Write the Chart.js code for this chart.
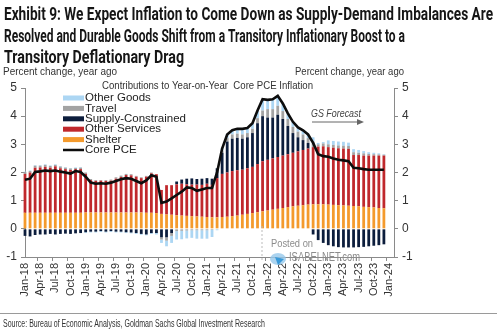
<!DOCTYPE html>
<html>
<head>
<meta charset="utf-8">
<script src="https://cdn.jsdelivr.net/npm/chart.js@4.4.1/dist/chart.umd.min.js"></script>
<style>
  html, body { margin: 0; padding: 0; background: #fff; }
  canvas { display: block; }
</style>
</head>
<body>
<canvas id="pce" width="500" height="332"></canvas>
<script>
// monthly categories, Jan-18 .. Feb-24 (bars run to Dec-23)
const months = [
  'Jan-18','Feb-18','Mar-18','Apr-18','May-18','Jun-18','Jul-18','Aug-18','Sep-18','Oct-18','Nov-18','Dec-18',
  'Jan-19','Feb-19','Mar-19','Apr-19','May-19','Jun-19','Jul-19','Aug-19','Sep-19','Oct-19','Nov-19','Dec-19',
  'Jan-20','Feb-20','Mar-20','Apr-20','May-20','Jun-20','Jul-20','Aug-20','Sep-20','Oct-20','Nov-20','Dec-20',
  'Jan-21','Feb-21','Mar-21','Apr-21','May-21','Jun-21','Jul-21','Aug-21','Sep-21','Oct-21','Nov-21','Dec-21',
  'Jan-22','Feb-22','Mar-22','Apr-22','May-22','Jun-22','Jul-22','Aug-22','Sep-22','Oct-22','Nov-22','Dec-22',
  'Jan-23','Feb-23','Mar-23','Apr-23','May-23','Jun-23','Jul-23','Aug-23','Sep-23','Oct-23','Nov-23','Dec-23',
  'Jan-24','Feb-24'
];

// contributions, percentage points
const shelter = [
  0.57,0.57,0.57,0.57,0.57,0.57,0.57,0.57,0.57,0.57,0.57,0.57,
  0.58,0.58,0.58,0.58,0.58,0.58,0.58,0.58,0.58,0.58,0.58,0.58,
  0.57,0.57,0.56,0.53,0.51,0.50,0.48,0.47,0.46,0.45,0.44,0.43,
  0.42,0.41,0.41,0.42,0.43,0.45,0.47,0.50,0.53,0.56,0.59,0.62,
  0.65,0.68,0.71,0.74,0.77,0.80,0.82,0.84,0.86,0.87,0.87,0.87,
  0.86,0.85,0.84,0.83,0.82,0.81,0.80,0.78,0.77,0.76,0.74,0.73
];
const otherServices = [
  1.38,1.43,1.60,1.61,1.63,1.60,1.65,1.58,1.55,1.52,1.55,1.55,
  1.37,1.15,1.12,1.13,1.12,1.13,1.20,1.26,1.33,1.32,1.27,1.22,
  1.28,1.40,1.38,0.85,1.04,1.05,1.10,1.13,1.12,1.12,1.13,1.13,
  1.18,1.15,1.39,1.53,1.57,1.60,1.61,1.60,1.62,1.64,1.71,1.78,
  1.80,1.82,1.84,1.86,1.88,1.90,1.93,1.96,1.99,2.03,2.05,2.06,
  2.04,2.03,2.02,2.02,2.02,1.81,1.82,1.82,1.83,1.84,1.86,1.87
];
const supplyConstrained = [
  -0.25,-0.27,-0.22,-0.20,-0.20,-0.18,-0.20,-0.18,-0.17,-0.18,-0.16,-0.15,
  -0.12,-0.10,-0.10,-0.08,-0.10,-0.08,-0.10,-0.10,-0.12,-0.13,-0.15,-0.18,
  -0.20,-0.15,-0.15,-0.30,-0.30,-0.15,0.10,0.15,0.20,0.22,0.20,0.22,
  0.20,0.22,0.35,0.75,1.10,1.15,1.15,1.10,1.10,1.20,1.45,1.60,
  1.50,1.45,1.50,1.30,1.00,0.70,0.50,0.35,0.20,-0.20,-0.40,-0.50,
  -0.58,-0.62,-0.65,-0.66,-0.66,-0.66,-0.65,-0.64,-0.62,-0.60,-0.58,-0.55
];
const travel = [
  0.06,0.05,0.07,0.06,0.07,0.06,0.05,0.06,0.05,0.05,0.04,0.05,
  0.05,0.04,0.03,0.02,0.03,0.04,0.05,0.05,0.04,0.04,0.03,0.03,
  0.03,0.03,0.00,-0.08,-0.12,-0.10,-0.08,-0.07,-0.06,-0.05,-0.05,-0.05,
  -0.05,-0.04,0.00,0.08,0.12,0.15,0.15,0.15,0.15,0.15,0.18,0.20,
  0.30,0.30,0.32,0.28,0.25,0.22,0.20,0.20,0.17,0.20,0.08,0.10,
  0.10,0.10,0.10,0.10,0.10,0.10,0.08,0.08,0.06,0.05,0.04,0.03
];
const otherGoods = [
  0.02,0.02,0.02,0.02,0.02,0.02,0.02,0.02,0.02,0.02,0.02,0.02,
  -0.03,-0.03,-0.03,-0.03,-0.03,-0.03,-0.03,-0.03,-0.03,-0.03,-0.03,-0.03,
  -0.03,-0.03,-0.05,-0.12,-0.20,-0.25,-0.30,-0.30,-0.28,-0.27,-0.30,-0.30,
  -0.30,-0.25,-0.05,0.10,0.15,0.15,0.20,0.20,0.18,0.20,0.27,0.40,
  0.33,0.35,0.35,0.27,0.20,0.18,0.15,0.15,0.13,0.15,0.05,0.05,
  0.14,0.14,0.14,0.14,0.12,0.11,0.10,0.08,0.06,0.05,0.04,0.02
];
// core PCE, % yoy
const corePCE = [
  1.74,1.78,2.02,2.04,2.07,2.05,2.07,2.03,2.00,1.96,2.05,2.02,
  1.85,1.64,1.60,1.62,1.60,1.64,1.70,1.76,1.80,1.78,1.70,1.62,
  1.72,1.90,1.85,0.92,0.97,1.08,1.20,1.32,1.47,1.45,1.35,1.40,
  1.45,1.45,2.00,2.85,3.35,3.50,3.55,3.55,3.58,3.75,4.20,4.60,
  4.58,4.60,4.72,4.45,4.10,3.80,3.60,3.50,3.35,3.05,2.65,2.58,
  2.56,2.50,2.45,2.43,2.40,2.17,2.15,2.12,2.10,2.10,2.10,2.10
];

const yMin = -1, yMax = 5;

const headline = [
  'Exhibit 9: We Expect Inflation to Come Down as Supply-Demand Imbalances Are',
  'Resolved and Durable Goods Shift from a Transitory Inflationary Boost to a',
  'Transitory Deflationary Drag'
];
const axisNote = 'Percent change, year ago';
const panelTitle = 'Contributions to Year-on-Year  Core PCE Inflation';
const sourceNote = 'Source: Bureau of Economic Analysis, Goldman Sachs Global Investment Research';

const AXIS_FONT = '"Liberation Sans", Arial, sans-serif';

function barSet(label, data, color) {
  return {
    type: 'bar', label, data,
    backgroundColor: color,
    borderWidth: 0,
    barPercentage: 0.55,
    categoryPercentage: 1,
    stack: 'parts',
    order: 1,
    clip: false
  };
}

// headline, legend, notes and the watermark
const decor = {
  id: 'decor',
  afterDraw(chart) {
    const ctx = chart.ctx;
    ctx.save();

    ctx.fillStyle = '#161616';
    ctx.font = 'bold 18px Roboto, sans-serif';
    ctx.textAlign = 'left';
    ctx.textBaseline = 'alphabetic';
    const widths = [489, 401, 180];
    headline.forEach((t, i) => ctx.fillText(t, 4, 20 + i * 21.5, widths[i]));

    ctx.fillStyle = '#333';
    ctx.font = '11px ' + AXIS_FONT;
    ctx.textBaseline = 'middle';
    ctx.fillText(axisNote, 3, 72, 114);
    ctx.fillText(axisNote, 295, 72, 109);
    ctx.fillText(panelTitle, 102, 86, 211);

    // legend
    const ds = chart.data.datasets;
    const rows = ['Other Goods', 'Travel', 'Supply-Constrained', 'Other Services', 'Shelter', 'Core PCE'];
    ctx.font = '11.5px ' + AXIS_FONT;
    rows.forEach((name, i) => {
      const d = ds.find(s => s.label === name);
      const yy = 98 + i * 10.4;
      if (d.type === 'line') {
        ctx.strokeStyle = d.borderColor;
        ctx.lineWidth = 2.5;
        ctx.beginPath();
        ctx.moveTo(63, yy);
        ctx.lineTo(84, yy);
        ctx.stroke();
      } else {
        ctx.fillStyle = d.backgroundColor;
        ctx.fillRect(63, yy - 2.5, 21, 5);
      }
      ctx.fillStyle = '#222';
      ctx.fillText(name, 85, yy);
    });

    // forecast marker
    ctx.fillStyle = '#444';
    ctx.font = 'italic 10.5px ' + AXIS_FONT;
    ctx.fillText('GS Forecast', 311, 114, 50);
    ctx.strokeStyle = '#666';
    ctx.lineWidth = 1;
    ctx.beginPath();
    ctx.moveTo(312, 122);
    ctx.lineTo(358, 122);
    ctx.stroke();
    ctx.fillStyle = '#666';
    ctx.beginPath();
    ctx.moveTo(364, 122);
    ctx.lineTo(357, 119);
    ctx.lineTo(357, 125);
    ctx.closePath();
    ctx.fill();

    // watermark
    ctx.strokeStyle = '#bbb';
    ctx.setLineDash([2, 2]);
    ctx.beginPath();
    ctx.moveTo(262, 226);
    ctx.lineTo(262, 262);
    ctx.stroke();
    ctx.setLineDash([]);
    ctx.fillStyle = 'rgba(150,200,235,0.8)';
    ctx.beginPath();
    ctx.ellipse(278, 259, 8, 6, 0, 0, Math.PI * 2);
    ctx.fill();
    ctx.fillStyle = '#3a9ad9';
    ctx.beginPath();
    ctx.moveTo(275, 257);
    ctx.lineTo(284, 259);
    ctx.lineTo(278, 265);
    ctx.closePath();
    ctx.fill();
    ctx.fillStyle = '#8c8c8c';
    ctx.font = '11px ' + AXIS_FONT;
    ctx.fillText('Posted on', 271, 244, 42);
    ctx.font = '12px ' + AXIS_FONT;
    ctx.fillText('ISABELNET.com', 289, 258, 71);

    // source
    ctx.strokeStyle = '#9a9a9a';
    ctx.beginPath();
    ctx.moveTo(0, 313.5);
    ctx.lineTo(497, 313.5);
    ctx.stroke();
    ctx.fillStyle = '#333';
    ctx.font = '10px ' + AXIS_FONT;
    ctx.fillText(sourceNote, 3, 324, 262);

    ctx.restore();
  }
};

const yTickStyle = {
  min: yMin, max: yMax,
  border: { color: '#8a8a8a' },
  grid: { drawOnChartArea: false, tickLength: 4, tickColor: '#8a8a8a' },
  ticks: { stepSize: 1, padding: 4, color: '#333', font: { family: AXIS_FONT, size: 12 } }
};

new Chart(document.getElementById('pce').getContext('2d'), {
  data: {
    labels: months,
    datasets: [
      barSet('Shelter', shelter, '#f49a2c'),
      barSet('Other Services', otherServices, '#c0282c'),
      barSet('Supply-Constrained', supplyConstrained, '#0c1d3c'),
      barSet('Travel', travel, '#a3a3a3'),
      barSet('Other Goods', otherGoods, '#acd6f3'),
      {
        type: 'line', label: 'Core PCE', data: corePCE,
        borderColor: '#0d0d0d', borderWidth: 2.6,
        pointRadius: 0, tension: 0, stack: 'pce', order: 0
      }
    ]
  },
  options: {
    responsive: false,
    animation: false,
    layout: { padding: { top: 88, bottom: 25, left: 0, right: 0 } },
    plugins: { legend: { display: false }, tooltip: { enabled: false } },
    scales: {
      x: {
        type: 'category',
        offset: false,
        stacked: true,
        border: { color: '#8a8a8a' },
        grid: {
          drawOnChartArea: false, tickLength: 4,
          tickColor: c => c.index % 3 === 0 ? '#8a8a8a' : 'rgba(0,0,0,0)'
        },
        ticks: {
          autoSkip: false, minRotation: 90, maxRotation: 90, padding: 2,
          color: '#333', font: { family: AXIS_FONT, size: 11 },
          callback: (v, i) => i % 3 === 0 ? months[i] : ''
        },
        afterFit: s => { s.height = 50; }
      },
      y: Object.assign({ position: 'left', stacked: true,
        afterFit: s => { s.width = 25; } }, yTickStyle),
      y2: Object.assign({ position: 'right',
        afterFit: s => { s.width = 106; } }, yTickStyle)
    }
  },
  plugins: [decor]
});
</script>
</body>
</html>
